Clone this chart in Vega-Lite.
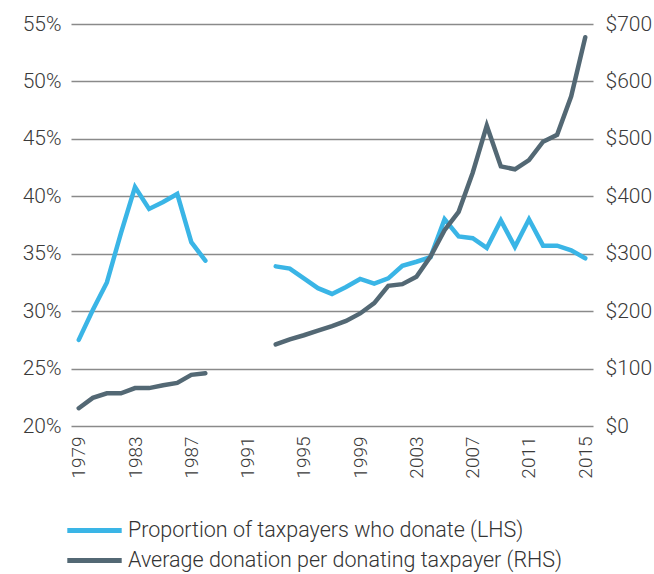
{
  "$schema": "https://vega.github.io/schema/vega-lite/v6.json",
  "width": 522,
  "height": 402,
  "autosize": {"type": "none"},
  "padding": {"left": 71, "top": 24, "right": 61, "bottom": 148},
  "background": "white",
  "config": {
    "view": {"stroke": null},
    "font": "Roboto",
    "axis": {"labelFont": "Roboto", "labelFontWeight": 300, "labelColor": "#3a3a3a", "domain": false, "ticks": false, "title": null}
  },
  "data": {
    "values": [
      {"year": 1979, "share": 0.275, "donation": 31},
      {"year": 1980, "share": 0.301, "donation": 49},
      {"year": 1981, "share": 0.325, "donation": 57},
      {"year": 1982, "share": 0.368, "donation": 57},
      {"year": 1983, "share": 0.408, "donation": 66},
      {"year": 1984, "share": 0.389, "donation": 66},
      {"year": 1985, "share": 0.395, "donation": 71},
      {"year": 1986, "share": 0.402, "donation": 75},
      {"year": 1987, "share": 0.360, "donation": 89},
      {"year": 1988, "share": 0.344, "donation": 92},
      {"year": 1989, "share": null, "donation": null},
      {"year": 1990, "share": null, "donation": null},
      {"year": 1991, "share": null, "donation": null},
      {"year": 1992, "share": null, "donation": null},
      {"year": 1993, "share": 0.339, "donation": 142},
      {"year": 1994, "share": 0.337, "donation": 151},
      {"year": 1995, "share": 0.3285, "donation": 158},
      {"year": 1996, "share": 0.320, "donation": 166},
      {"year": 1997, "share": 0.315, "donation": 174},
      {"year": 1998, "share": 0.321, "donation": 183},
      {"year": 1999, "share": 0.328, "donation": 196},
      {"year": 2000, "share": 0.324, "donation": 214},
      {"year": 2001, "share": 0.3285, "donation": 244},
      {"year": 2002, "share": 0.3395, "donation": 247},
      {"year": 2003, "share": 0.343, "donation": 260},
      {"year": 2004, "share": 0.347, "donation": 295},
      {"year": 2005, "share": 0.380, "donation": 341},
      {"year": 2006, "share": 0.365, "donation": 373},
      {"year": 2007, "share": 0.3635, "donation": 441},
      {"year": 2008, "share": 0.355, "donation": 523},
      {"year": 2009, "share": 0.379, "donation": 452},
      {"year": 2010, "share": 0.356, "donation": 447},
      {"year": 2011, "share": 0.380, "donation": 463},
      {"year": 2012, "share": 0.357, "donation": 495},
      {"year": 2013, "share": 0.357, "donation": 507},
      {"year": 2014, "share": 0.353, "donation": 574},
      {"year": 2015, "share": 0.346, "donation": 677}
    ]
  },
  "encoding": {
    "x": {
      "field": "year", "type": "ordinal",
      "scale": {"type": "point", "padding": 0.55},
      "axis": {"values": [1979, 1983, 1987, 1991, 1995, 1999, 2003, 2007, 2011, 2015], "labelAngle": -90, "labelAlign": "right", "labelBaseline": "middle", "labelFontSize": 19, "labelPadding": 10, "grid": false}
    }
  },
  "layer": [
    {
      "mark": {"type": "line", "strokeWidth": 4.5, "strokeCap": "round", "strokeJoin": "miter", "invalid": "break-paths-show-domains"},
      "encoding": {
        "y": {
          "field": "share", "type": "quantitative",
          "scale": {"domain": [0.2, 0.55], "nice": false, "zero": false},
          "axis": {"values": [0.2, 0.25, 0.3, 0.35, 0.4, 0.45, 0.5, 0.55], "format": ".0%", "labelFontSize": 21, "labelPadding": 10, "grid": true, "gridColor": "#8a8a8a", "gridWidth": 1.6, "gridOpacity": 1}
        },
        "color": {
          "datum": "Proportion of taxpayers who donate (LHS)",
          "scale": {"domain": ["Proportion of taxpayers who donate (LHS)", "Average donation per donating taxpayer (RHS)"], "range": ["#3ab5e6", "#536874"]},
          "legend": {"orient": "none", "legendX": 4, "legendY": 487, "title": null, "symbolType": "M-1.6,0H1.6", "symbolSize": 1156, "symbolStrokeWidth": 5, "labelFontSize": 21.5, "labelFont": "Roboto", "labelFontWeight": 300, "labelColor": "#333333", "rowPadding": 0, "labelOffset": 14, "labelLimit": 600}
        }
      }
    },
    {
      "mark": {"type": "line", "strokeWidth": 4.5, "strokeCap": "round", "strokeJoin": "miter", "invalid": "break-paths-show-domains"},
      "encoding": {
        "y": {
          "field": "donation", "type": "quantitative",
          "scale": {"domain": [0, 700], "nice": false},
          "axis": {"orient": "right", "values": [0, 100, 200, 300, 400, 500, 600, 700], "format": "$.0f", "labelFontSize": 21, "labelPadding": 12, "grid": false}
        },
        "color": {"datum": "Average donation per donating taxpayer (RHS)"}
      }
    }
  ],
  "resolve": {"scale": {"y": "independent"}}
}
